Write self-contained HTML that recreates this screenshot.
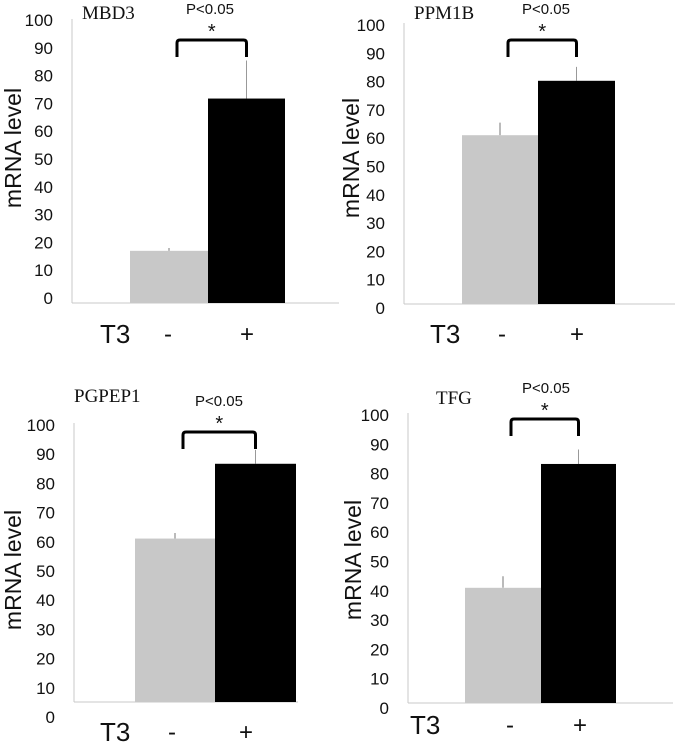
<!DOCTYPE html>
<html><head><meta charset="utf-8"><style>
body{margin:0;background:#fff;width:675px;height:743px;overflow:hidden}
svg{display:block}
text{font-family:"Liberation Sans",sans-serif;fill:#111}
</style></head><body>
<svg id="chart" width="675" height="743" viewBox="0 0 675 743" xmlns="http://www.w3.org/2000/svg"></svg>
<script>
const geneNames = ["MBD3", "PPM1B", "PGPEP1", "TFG"];
const groupLabels = ["-", "+"];
const minusValues = [18.5, 60.5, 59, 40];
const plusValues = [72.5, 80, 86, 83];
const minusErrors = [19.5, 65, 61, 44];
const plusErrors = [86, 85, 91, 88];
const tickValues = [0, 10, 20, 30, 40, 50, 60, 70, 80, 90, 100];

// layout per panel (not data)
const panels = [
  {ax:72, base:303, top100:21, axEnd:339, lab0:298, lab100:20, gx:[130,208,285], title:[82,19], ylx:13, yly:148, t3:[100,343], minusX:168, plusX:247, p:[210,14]},
  {ax:404, base:304, top100:25, axEnd:675, lab0:308, lab100:25, gx:[462,538,615], title:[414,19], ylx:351, yly:158, t3:[430,343], minusX:502, plusX:577, p:[546,14]},
  {ax:74, base:702, top100:425, axEnd:298, lab0:717, lab100:425, gx:[135,215,296], title:[74,402], ylx:13, yly:570, t3:[100,741], minusX:172, plusX:246, p:[219,406]},
  {ax:408, base:703, top100:415, axEnd:673, lab0:708, lab100:415, gx:[465,541,616], title:[436,404], ylx:353, yly:560, t3:[410,734], minusX:510, plusX:580, p:[546,393]}
];
const svg = document.getElementById('chart');
const NS = 'http://www.w3.org/2000/svg';
function mk(tag, attrs, parent, txt){
  const e = document.createElementNS(NS, tag);
  for (const k in attrs) e.setAttribute(k, attrs[k]);
  if (txt !== undefined) e.textContent = txt;
  parent.appendChild(e);
  return e;
}
panels.forEach((P, i) => {
  const g = mk('g', {}, svg);
  
  
  const y = v => P.base - (P.base - P.top100) * v / 100;
  const ly = v => P.lab0 - (P.lab0 - P.lab100) * v / 100;
  const yaxis = mk('line', {x1:P.ax, x2:P.ax, y1:P.top100-2, y2:P.base, stroke:'#c8c8c8', 'stroke-width':1}, g);
  
  
  const xaxis = mk('line', {x1:P.ax, x2:P.axEnd, y1:P.base, y2:P.base, stroke:'#c8c8c8', 'stroke-width':1}, g);
  
  
  tickValues.forEach(t => {
    const tl = mk('text', {x:P.ax-19, y:ly(t)+6, 'text-anchor':'end', 'font-size':17}, g, String(t));
    
    
  });
  const vals = [minusValues[i], plusValues[i]];
  const errs = [minusErrors[i], plusErrors[i]];
  const fills = ['#c8c8c8', '#000'];
  for (let k = 0; k < 2; k++) {
    const x0 = P.gx[k], x1 = P.gx[k+1];
    const cx = (x0 + x1) / 2;
    const err = mk('line', {x1:cx, x2:cx, y1:y(errs[k]), y2:y(vals[k]), stroke: k ? '#999' : '#777', 'stroke-width':1}, g);
    
    
    const b = mk('rect', {x:x0, y:y(vals[k]), width:x1-x0, height:P.base - y(vals[k]), fill:fills[k]}, g);
    
    
  }
  const bx0 = (P.gx[0]+P.gx[1])/2 + 8, bx1 = (P.gx[1]+P.gx[2])/2;
  const bt = P.p[1] + 26;
  const br = mk('path', {d:`M${bx0} ${bt+17} V${bt+3} Q${bx0} ${bt} ${bx0+3} ${bt} H${bx1-3} Q${bx1} ${bt} ${bx1} ${bt+3} V${bt+17}`, fill:'none', stroke:'#000', 'stroke-width':3}, g);
  
  
  const st = mk('text', {x:(bx0+bx1)/2, y:bt-2, 'text-anchor':'middle', 'font-size':20}, g, '*');
  
  
  const pv = mk('text', {x:P.p[0], y:P.p[1], 'text-anchor':'middle', 'font-size':15}, g, 'P<0.05');
  
  
  const ti = mk('text', {x:P.title[0], y:P.title[1], 'font-size':19, style:'font-family:"Liberation Serif",serif'}, g, geneNames[i]);
  
  
  const yl = mk('text', {x:0, y:0, 'text-anchor':'middle', 'font-size':23, transform:`translate(${P.ylx+8},${P.yly}) rotate(-90)`}, g, 'mRNA level');
  
  
  const t3 = mk('text', {x:P.t3[0], y:P.t3[1], 'font-size':26}, g, 'T3');
  
  
  const m = mk('text', {x:P.minusX, y:P.t3[1]-1, 'text-anchor':'middle', 'font-size':24}, g, groupLabels[0]);
  
  
  const p = mk('text', {x:P.plusX, y:P.t3[1]-1, 'text-anchor':'middle', 'font-size':24}, g, groupLabels[1]);
  
  
});
</script>
</body></html>
